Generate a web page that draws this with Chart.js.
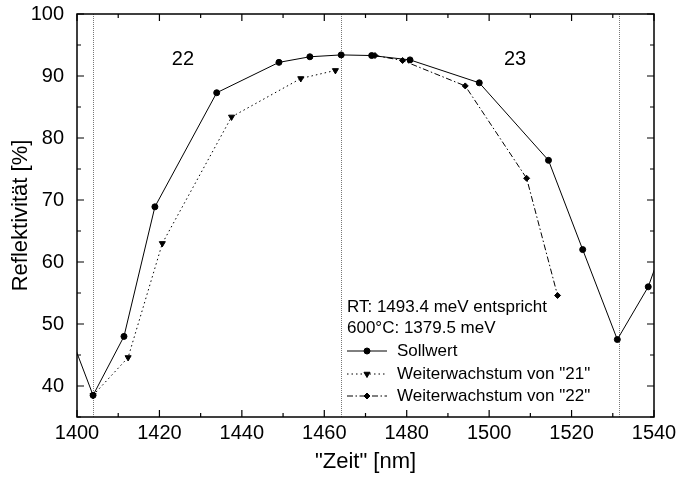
<!DOCTYPE html>
<html>
<head>
<meta charset="utf-8">
<script src="https://cdn.jsdelivr.net/npm/chart.js@4/dist/chart.umd.min.js"></script>
<style>
html,body{margin:0;padding:0;background:#fff;}
#wrap{width:678px;height:481px;position:relative;}
</style>
</head>
<body>
<div id="wrap"><canvas id="c" width="678" height="481"></canvas></div>
<script>
// ---- data ----
const sollX = [1396, 1403.9, 1411.4, 1418.9, 1433.9, 1449.0, 1456.5, 1464.1, 1471.5, 1480.8, 1497.6, 1514.4, 1522.7, 1531.1, 1538.6, 1544];
const sollY = [52.3, 38.5, 48.0, 68.9, 87.3, 92.2, 93.1, 93.4, 93.3, 92.6, 88.9, 76.4, 62.0, 47.5, 56.0, 66.0];
const w21X = [1403.9, 1412.4, 1420.7, 1437.5, 1454.3, 1462.7];
const w21Y = [38.5, 44.6, 63.0, 83.4, 89.6, 90.9];
const w22X = [1472.3, 1479.0, 1494.2, 1509.1, 1516.6];
const w22Y = [93.3, 92.5, 88.4, 73.5, 54.6];
const seriesNames = ['Sollwert', 'Weiterwachstum von "21"', 'Weiterwachstum von "22"'];
const xTickValues = [1400, 1420, 1440, 1460, 1480, 1500, 1520, 1540];
const yTickValues = [40, 50, 60, 70, 80, 90, 100];
const markerLinesX = [1404, 1464, 1531.5];
const regionLabels = ['22', '23'];
const regionLabelX = [1425.7, 1506.3];
const regionLabelY = [92.7, 92.6];
const infoLines = ['RT: 1493.4 meV entspricht', '600°C: 1379.5 meV'];

const toPts = (xs, ys) => xs.map((x, i) => ({x: x, y: ys[i]}));
const FONT = "'Liberation Sans', Arial, Helvetica, sans-serif";

const dashStyles = [[], [1.5, 3], [6, 2.5, 1.5, 2.5]];

const deco = {
  id: 'deco',
  beforeDatasetsDraw(chart) {
    const {ctx, chartArea: a, scales: {x, y}} = chart;
    ctx.save();
    ctx.strokeStyle = '#777';
    ctx.lineWidth = 1;
    ctx.setLineDash([1, 1]);
    markerLinesX.forEach(v => {
      const px = Math.round(x.getPixelForValue(v)) + 0.5;
      ctx.beginPath(); ctx.moveTo(px, a.top); ctx.lineTo(px, a.bottom); ctx.stroke();
    });
    ctx.restore();
  },
  afterDraw(chart) {
    const {ctx, chartArea: a, scales: {x, y}} = chart;
    ctx.save();
    // frame
    ctx.strokeStyle = '#000';
    ctx.lineWidth = 1.5;
    ctx.setLineDash([]);
    ctx.strokeRect(a.left, a.top, a.right - a.left, a.bottom - a.top);
    // ticks
    ctx.lineWidth = 1.2;
    for (let v = 1400; v <= 1540; v += 10) {
      const px = x.getPixelForValue(v);
      const len = (v % 20 === 0) ? 7 : 4;
      ctx.beginPath();
      ctx.moveTo(px, a.bottom); ctx.lineTo(px, a.bottom - len);
      ctx.moveTo(px, a.top); ctx.lineTo(px, a.top + len);
      ctx.stroke();
    }
    for (let v = 35; v <= 100; v += 5) {
      const py = y.getPixelForValue(v);
      const len = (v % 10 === 0) ? 7 : 4;
      ctx.beginPath();
      ctx.moveTo(a.left, py); ctx.lineTo(a.left + len, py);
      ctx.moveTo(a.right, py); ctx.lineTo(a.right - len, py);
      ctx.stroke();
    }
    // region labels
    ctx.fillStyle = '#000';
    ctx.font = '20px ' + FONT;
    ctx.textAlign = 'center';
    ctx.textBaseline = 'middle';
    regionLabels.forEach((t, i) => {
      ctx.fillText(t, x.getPixelForValue(regionLabelX[i]), y.getPixelForValue(regionLabelY[i]));
    });
    // info + legend
    const lx = 347, rows = [307, 328, 351, 374, 396];
    ctx.font = '17px ' + FONT;
    ctx.textAlign = 'left';
    infoLines.forEach((t, i) => ctx.fillText(t, lx, rows[i]));
    chart.data.datasets.forEach((ds, i) => {
      const ry = rows[2 + i];
      ctx.strokeStyle = '#000';
      ctx.lineWidth = 1;
      ctx.setLineDash(ds.borderDash || []);
      ctx.beginPath(); ctx.moveTo(lx, ry); ctx.lineTo(lx + 40, ry); ctx.stroke();
      ctx.setLineDash([]);
      Chart.helpers.drawPoint(ctx, {pointStyle: ds.pointStyle, rotation: ds.rotation || 0, radius: ds.pointRadius, borderWidth: 1}, lx + 20, ry);
      ctx.fillStyle = '#000';
      ctx.fillText(ds.label, lx + 50, ry);
    });
    ctx.restore();
  }
};

const mk = (label, pts, style, rot, r, dash) => ({
  label: label, data: pts, showLine: true,
  borderColor: '#000', backgroundColor: '#000', borderWidth: 1,
  borderDash: dash, pointStyle: style, rotation: rot,
  pointRadius: r, pointHoverRadius: r, pointBorderWidth: 1, tension: 0
});

new Chart(document.getElementById('c'), {
  type: 'scatter',
  data: {
    datasets: [
      mk(seriesNames[0], toPts(sollX, sollY), 'circle', 0, 3, dashStyles[0]),
      mk(seriesNames[1], toPts(w21X, w21Y), 'triangle', 180, 3.5, dashStyles[1]),
      mk(seriesNames[2], toPts(w22X, w22Y), 'rectRot', 0, 3, dashStyles[2])
    ]
  },
  options: {
    responsive: false, animation: false, devicePixelRatio: 1,
    layout: {padding: {top: 14, right: 24, left: 0, bottom: 0}},
    plugins: {legend: {display: false}, tooltip: {enabled: false}},
    scales: {
      x: {
        type: 'linear', min: 1400, max: 1540,
        afterBuildTicks: s => { s.ticks = xTickValues.map(v => ({value: v})); },
        afterFit: s => { s.height = 64; s.paddingLeft = 0; s.paddingRight = 0; },
        grid: {display: false, drawTicks: false}, border: {display: false},
        ticks: {color: '#000', font: {family: FONT, size: 20}, padding: 4, maxRotation: 0, callback: v => String(v)},
        title: {display: true, text: '"Zeit" [nm]', color: '#000', font: {family: FONT, size: 22}, padding: {top: 0, bottom: 6}}
      },
      y: {
        type: 'linear', min: 35, max: 100,
        afterBuildTicks: s => { s.ticks = yTickValues.map(v => ({value: v})); },
        afterFit: s => { s.width = 77; s.paddingTop = 0; s.paddingBottom = 0; },
        grid: {display: false, drawTicks: false}, border: {display: false},
        ticks: {color: '#000', font: {family: FONT, size: 20}, padding: 13, callback: v => String(v)},
        title: {display: true, text: 'Reflektivität [%]', color: '#000', font: {family: FONT, size: 22}, padding: {top: 8, bottom: 0}}
      }
    }
  },
  plugins: [deco]
});
</script>
</body>
</html>
